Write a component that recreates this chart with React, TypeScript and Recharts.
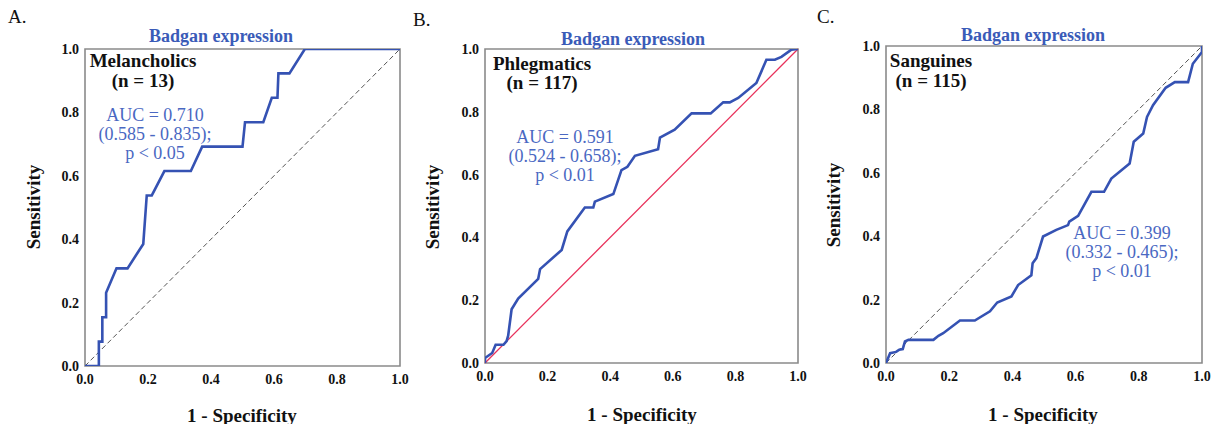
import React from "react";
import { LineChart, Line, XAxis, YAxis, ReferenceLine, ReferenceArea } from "recharts";

// ---- Data ----
const axisTicks = [0, 0.2, 0.4, 0.6, 0.8, 1.0];

const melFpr = [0, 0.044, 0.044, 0.055, 0.055, 0.067, 0.067, 0.1, 0.135, 0.185, 0.196, 0.212, 0.252, 0.336, 0.372, 0.5, 0.508, 0.566, 0.593, 0.611, 0.614, 0.649, 0.698, 1.0];
const melTpr = [0, 0, 0.077, 0.077, 0.154, 0.154, 0.231, 0.308, 0.308, 0.385, 0.538, 0.538, 0.615, 0.615, 0.692, 0.692, 0.769, 0.769, 0.846, 0.846, 0.923, 0.923, 1.0, 1.0];

const phlFpr = [0, 0, 0.023, 0.034, 0.059, 0.069, 0.074, 0.085, 0.106, 0.17, 0.176, 0.245, 0.263, 0.319, 0.346, 0.351, 0.41, 0.436, 0.455, 0.479, 0.553, 0.559, 0.606, 0.66, 0.721, 0.761, 0.782, 0.809, 0.867, 0.888, 0.899, 0.926, 0.947, 0.979, 1.0];
const phlTpr = [0, 0.016, 0.032, 0.058, 0.058, 0.07, 0.087, 0.171, 0.205, 0.268, 0.299, 0.36, 0.419, 0.495, 0.495, 0.514, 0.538, 0.614, 0.625, 0.66, 0.681, 0.718, 0.743, 0.795, 0.795, 0.83, 0.83, 0.844, 0.892, 0.94, 0.966, 0.966, 0.975, 0.998, 1.0];

const sanFpr = [0, 0.013, 0.032, 0.042, 0.053, 0.06, 0.071, 0.15, 0.166, 0.181, 0.234, 0.281, 0.329, 0.352, 0.397, 0.418, 0.46, 0.464, 0.476, 0.497, 0.539, 0.576, 0.58, 0.608, 0.65, 0.69, 0.713, 0.771, 0.784, 0.814, 0.826, 0.845, 0.885, 0.914, 0.956, 0.971, 0.992, 1.0, 1.0];
const sanTpr = [0, 0.031, 0.035, 0.042, 0.044, 0.068, 0.073, 0.073, 0.086, 0.094, 0.134, 0.134, 0.163, 0.191, 0.21, 0.246, 0.277, 0.315, 0.331, 0.399, 0.42, 0.435, 0.446, 0.464, 0.54, 0.54, 0.582, 0.629, 0.698, 0.724, 0.776, 0.813, 0.868, 0.886, 0.886, 0.944, 0.971, 0.981, 1.0];

const panelLetters = ["A.", "B.", "C."];
const groupNames = ["Melancholics", "Phlegmatics", "Sanguines"];
const groupSizes = ["(n = 13)", "(n = 117)", "(n = 115)"];
const aucLines = [
  ["AUC = 0.710", "(0.585 - 0.835);", "p < 0.05"],
  ["AUC = 0.591", "(0.524 - 0.658);", "p < 0.01"],
  ["AUC = 0.399", "(0.332 - 0.465);", "p < 0.01"],
];
const chartTitle = "Badgan expression";
const xTitle = "1 - Specificity";
const yTitle = "Sensitivity";

const toPoints = (xs: number[], ys: number[]) => xs.map((x, i) => ({ x, y: ys[i] }));

const FONT = "'Liberation Serif', 'Times New Roman', serif";
const CURVE = "#3552b3";
const TEXT_BLUE = "#4a68c2";

type PanelCfg = {
  pl: number; pr: number; pt: number; pb: number;
  data: { x: number; y: number }[];
  refColor: string; refDash?: string; refWidth: number;
};

const panels: PanelCfg[] = [
  { pl: 85, pr: 400, pt: 49, pb: 366, data: toPoints(melFpr, melTpr), refColor: "#555", refDash: "5 3", refWidth: 1 },
  { pl: 485, pr: 798, pt: 49, pb: 363, data: toPoints(phlFpr, phlTpr), refColor: "#e8305a", refWidth: 1.3 },
  { pl: 886, pr: 1202, pt: 46, pb: 363, data: toPoints(sanFpr, sanTpr), refColor: "#555", refDash: "5 3", refWidth: 1 },
];

const YW = 40;
const XH = 30;
const RM = 10;

function Panel({ cfg }: { cfg: PanelCfg }) {
  const left = cfg.pl - YW - 45;
  const width = cfg.pr - left + RM;
  const H = 424;
  const tickStyle = { fontFamily: FONT, fontSize: 14, fontWeight: 700, fill: "#111" };
  return (
    <div style={{ position: "absolute", left, top: 0, width, height: H }}>
      <LineChart
        width={width}
        height={H}
        margin={{ top: cfg.pt, right: RM, left: 45, bottom: H - cfg.pb - XH }}
      >
        <XAxis
          type="number"
          dataKey="x"
          domain={[0, 1]}
          ticks={axisTicks}
          tickFormatter={(v: number) => v.toFixed(1)}
          axisLine={false}
          tickLine={false}
          tickSize={6}
          tickMargin={2}
          height={XH}
          tick={tickStyle}
          allowDataOverflow
        />
        <YAxis
          type="number"
          dataKey="y"
          domain={[0, 1]}
          ticks={axisTicks}
          tickFormatter={(v: number) => v.toFixed(1)}
          axisLine={false}
          tickLine={false}
          tickSize={4}
          tickMargin={2}
          width={YW}
          tick={tickStyle}
          allowDataOverflow
        />
        <ReferenceArea x1={0} x2={1} y1={0} y2={1} fill="none" fillOpacity={0} stroke="#8a8a8a" strokeWidth={1.6} />
        <ReferenceLine
          segment={[{ x: 0, y: 0 }, { x: 1, y: 1 }]}
          stroke={cfg.refColor}
          strokeDasharray={cfg.refDash}
          strokeWidth={cfg.refWidth}
        />
        <Line
          data={cfg.data}
          dataKey="y"
          type="linear"
          stroke={CURVE}
          strokeWidth={2.6}
          dot={false}
          activeDot={false}
          isAnimationActive={false}
        />
      </LineChart>
    </div>
  );
}

// text positions (pixel layout of annotations)
const letterPos = [{ x: 8, y: 23 }, { x: 413, y: 26 }, { x: 817, y: 23 }];
const titlePos = [{ x: 221, y: 36 }, { x: 633, y: 39 }, { x: 1033, y: 35 }];
const namePos = [{ x: 143, y: 60, ny: 80 }, { x: 542, y: 63, ny: 82 }, { x: 931, y: 60, ny: 80 }];
const aucPos = [{ x: 155, y: 115 }, { x: 565, y: 137 }, { x: 1122, y: 233 }];
const xTitlePos = [{ x: 242, y: 415 }, { x: 642, y: 414 }, { x: 1043, y: 414 }];
const yTitlePos = [{ x: 33, y: 207 }, { x: 432, y: 207 }, { x: 833, y: 205 }];

export default function App() {
  return (
    <div style={{ position: "absolute", left: 0, top: 0, width: 1212, height: 424, background: "#fff", overflow: "hidden" }}>
      {panels.map((p, i) => (
        <Panel key={i} cfg={p} />
      ))}
      <svg width={1212} height={424} style={{ position: "absolute", left: 0, top: 0, pointerEvents: "none" }}>
        {panelLetters.map((t, i) => (
          <text key={"l" + i} x={letterPos[i].x} y={letterPos[i].y} fontFamily={FONT} fontSize={19} fill="#111">{t}</text>
        ))}
        {titlePos.map((p, i) => (
          <text key={"t" + i} x={p.x} y={p.y} textAnchor="middle" dominantBaseline="central" fontFamily={FONT} fontSize={18} fontWeight={700} fill="#3a5bb8">{chartTitle}</text>
        ))}
        {namePos.map((p, i) => (
          <g key={"n" + i}>
            <text x={p.x} y={p.y} textAnchor="middle" dominantBaseline="central" fontFamily={FONT} fontSize={19} fontWeight={700} fill="#111">{groupNames[i]}</text>
            <text x={p.x} y={p.ny} textAnchor="middle" dominantBaseline="central" fontFamily={FONT} fontSize={19} fontWeight={700} fill="#111">{groupSizes[i]}</text>
          </g>
        ))}
        {aucPos.map((p, i) => (
          <g key={"a" + i}>
            {aucLines[i].map((line, j) => (
              <text key={j} x={p.x} y={p.y + j * 19} textAnchor="middle" dominantBaseline="central" fontFamily={FONT} fontSize={18} fill={TEXT_BLUE}>{line}</text>
            ))}
          </g>
        ))}
        {xTitlePos.map((p, i) => (
          <text key={"x" + i} x={p.x} y={p.y} textAnchor="middle" dominantBaseline="central" fontFamily={FONT} fontSize={19} fontWeight={700} fill="#111">{xTitle}</text>
        ))}
        {yTitlePos.map((p, i) => (
          <text key={"y" + i} x={p.x} y={p.y} textAnchor="middle" dominantBaseline="central" fontFamily={FONT} fontSize={19} fontWeight={700} fill="#111" transform={`rotate(-90 ${p.x} ${p.y})`}>{yTitle}</text>
        ))}
      </svg>
    </div>
  );
}
